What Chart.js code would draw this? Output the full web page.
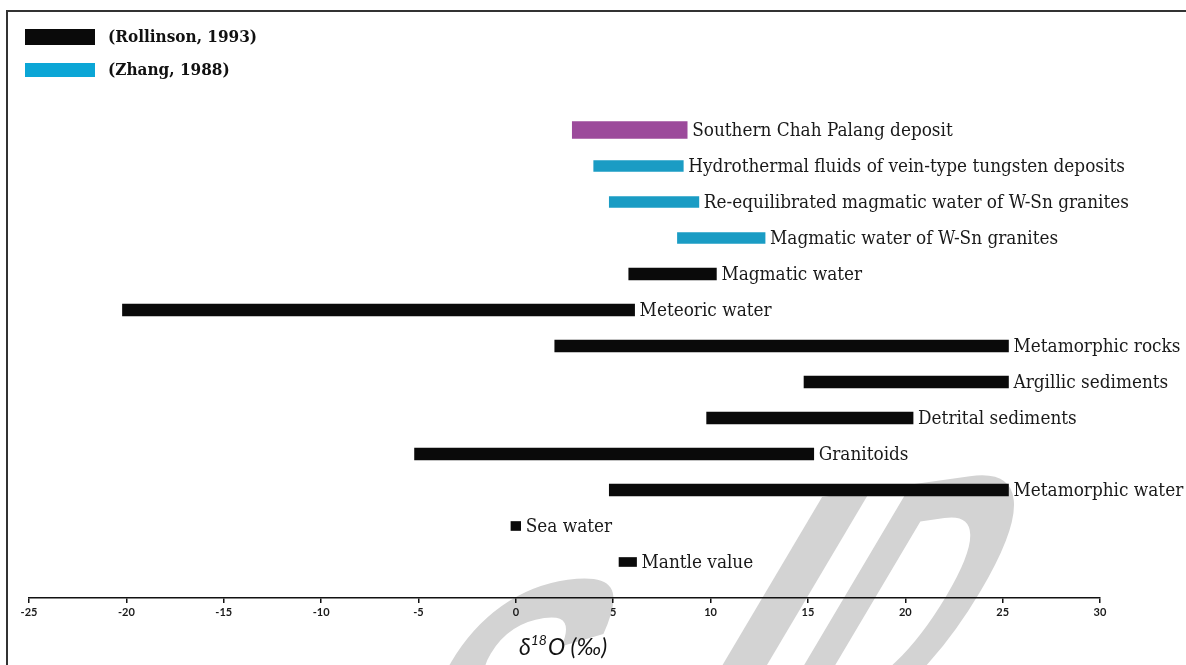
<!DOCTYPE html>
<html>
<head>
<meta charset="utf-8">
<script src="https://cdn.jsdelivr.net/npm/chart.js@4.4.1/dist/chart.umd.min.js"></script>
<style>
  html, body { margin: 0; padding: 0; background: #fff; }
  #wrap { position: relative; width: 1186px; height: 665px; }
</style>
</head>
<body>
<div id="wrap"><canvas id="c" width="1186" height="665"></canvas></div>
<script>
// Rows, top to bottom
const categories = [
  'Southern Chah Palang deposit',
  'Hydrothermal fluids of vein-type tungsten deposits',
  'Re-equilibrated magmatic water of W-Sn granites',
  'Magmatic water of W-Sn granites',
  'Magmatic water',
  'Meteoric water',
  'Metamorphic rocks',
  'Argillic sediments',
  'Detrital sediments',
  'Granitoids',
  'Metamorphic water',
  'Sea water',
  'Mantle value'
];

// δ18O ranges (‰) per row, null where the source gives none
const depositRange = [[2.9, 8.8], null, null, null, null, null, null, null, null, null, null, null, null];
const zhangRanges = [null, [4.0, 8.6], [4.8, 9.4], [8.3, 12.8], null, null, null, null, null, null, null, null, null];
const rollinsonRanges = [null, null, null, null, [5.8, 10.3], [-20.2, 6.1], [2.0, 25.3], [14.8, 25.3], [9.8, 20.4], [-5.2, 15.3], [4.8, 25.3], null, null];
const rollinsonSpots = [null, null, null, null, null, null, null, null, null, null, null, [-0.25, 0.25], [5.3, 6.2]];

const xTicks = [-25, -20, -15, -10, -5, 0, 5, 10, 15, 20, 25, 30];

const legendItems = [
  { text: '(Rollinson, 1993)', color: '#0a0a0a' },
  { text: '(Zhang, 1988)', color: '#0ba6d6' }
];

function toPoints(ranges) {
  const pts = [];
  ranges.forEach((r, i) => { if (r) pts.push({ x: r, y: i + 1, label: categories[i] }); });
  return pts;
}

const LABEL_FONT = "18.8px 'DejaVu Serif Condensed', 'DejaVu Serif', serif";

// Text to the right of each bar
const barLabels = {
  id: 'barLabels',
  afterDatasetsDraw(chart) {
    const ctx = chart.ctx;
    ctx.save();
    ctx.font = LABEL_FONT;
    ctx.fillStyle = '#1a1a1a';
    ctx.textAlign = 'left';
    ctx.textBaseline = 'middle';
    chart.data.datasets.forEach((ds, di) => {
      const meta = chart.getDatasetMeta(di);
      meta.data.forEach((el, i) => {
        const right = Math.max(el.x, el.base);
        ctx.fillText(ds.data[i].label, right + 5, el.y + 1);
      });
    });
    ctx.restore();
  }
};

// one slanted watermark letter in the rotated frame
function stamp(ctx, ch, x, y, sx, align) {
  ctx.save();
  ctx.translate(x, y);
  ctx.scale(sx, 1);
  ctx.textAlign = align;
  ctx.fillText(ch, 0, 0);
  ctx.restore();
}

// Frame, watermark, legend keys and axis title
const decor = {
  id: 'decor',
  beforeDraw(chart) {
    const ctx = chart.ctx;
    ctx.save();
    ctx.fillStyle = '#fff';
    ctx.fillRect(0, 0, chart.width, chart.height);
    // watermark
    ctx.translate(703, 750);
    ctx.rotate(-8 * Math.PI / 180);
    ctx.transform(1, 0, -0.8, 1, 0, 0);
    ctx.fillStyle = '#d3d3d3';
    ctx.font = "bold 340px 'Liberation Sans', sans-serif";
    ctx.textBaseline = 'alphabetic';
    stamp(ctx, 'S', -170, 50, 0.8, 'right');
    stamp(ctx, 'I', -9.5, 0, 1, 'center');
    stamp(ctx, 'D', 40, 0, 0.7, 'left');
    ctx.restore();

    ctx.save();
    ctx.strokeStyle = '#333';
    ctx.lineWidth = 2;
    ctx.strokeRect(7, 11, 1400, 1000);
    ctx.restore();
  },
  afterDraw(chart) {
    const ctx = chart.ctx;
    ctx.save();
    const rows = [{ y: 37, h: 16 }, { y: 70, h: 14 }];
    legendItems.forEach((it, i) => {
      ctx.fillStyle = it.color;
      ctx.fillRect(25, rows[i].y - rows[i].h / 2, 70, rows[i].h);
      ctx.fillStyle = '#111';
      ctx.font = "bold 17px 'DejaVu Serif Condensed', 'DejaVu Serif', serif";
      ctx.textAlign = 'left';
      ctx.textBaseline = 'middle';
      ctx.fillText(it.text, 108, rows[i].y + 1);
    });

    // axis title: δ18O (‰)
    const cx = 563, by = 655;
    const big = "italic 23px Lato, 'Open Sans', sans-serif";
    const small = "italic 14px Lato, 'Open Sans', sans-serif";
    ctx.fillStyle = '#111';
    ctx.textBaseline = 'alphabetic';
    ctx.font = big; const w1 = ctx.measureText('δ').width; const w3 = ctx.measureText('O (‰)').width;
    ctx.font = small; const w2 = ctx.measureText('18').width;
    let x = cx - (w1 + w2 + 1 + w3) / 2;
    ctx.font = big; ctx.fillText('δ', x, by); x += w1;
    ctx.font = small; ctx.fillText('18', x, by - 10); x += w2 + 1;
    ctx.font = big; ctx.fillText('O (‰)', x, by);
    ctx.restore();
  }
};

new Chart(document.getElementById('c'), {
  type: 'bar',
  data: {
    datasets: [
      { label: 'Southern Chah Palang deposit', data: toPoints(depositRange), backgroundColor: '#9c4a9b', barThickness: 17 },
      { label: legendItems[1].text, data: toPoints(zhangRanges), backgroundColor: '#1a9cc4', barThickness: 11 },
      { label: legendItems[0].text, data: toPoints(rollinsonRanges), backgroundColor: '#0a0a0a', barThickness: 12 },
      { label: legendItems[0].text, data: toPoints(rollinsonSpots), backgroundColor: '#0a0a0a', barThickness: 9 }
    ]
  },
  options: {
    indexAxis: 'y',
    responsive: false,
    animation: false,
    layout: { padding: { left: 29, right: 86, top: 94, bottom: 0 } },
    datasets: { bar: { grouped: false } },
    plugins: { legend: { display: false }, tooltip: { enabled: false } },
    scales: {
      y: { type: 'linear', reverse: true, min: 0, max: 14, offset: false, display: false },
      x: {
        type: 'linear',
        min: xTicks[0],
        max: xTicks[xTicks.length - 1],
        afterBuildTicks(scale) { scale.ticks = xTicks.map(v => ({ value: v })); },
        afterFit(scale) { scale.height = 67; },
        border: { display: true, color: '#111', width: 1.5 },
        grid: { drawOnChartArea: false, drawTicks: true, tickLength: 5, color: '#111', lineWidth: 1.5 },
        ticks: {
          padding: 3,
          color: '#1a1a1a',
          font: { family: "Lato, 'Open Sans', sans-serif", size: 11, weight: 'bold' },
          maxRotation: 0
        }
      }
    }
  },
  plugins: [decor, barLabels]
});
</script>
</body>
</html>
